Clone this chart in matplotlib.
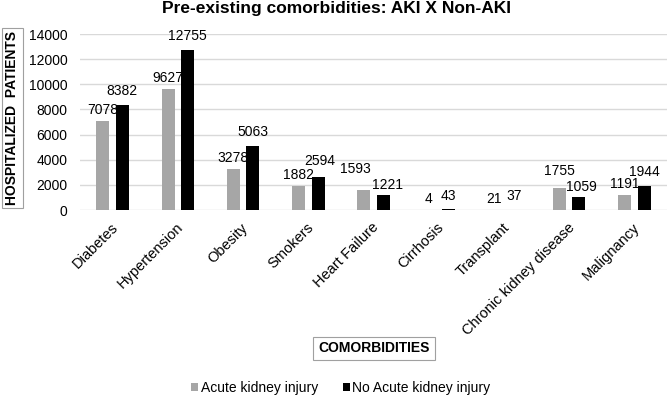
import numpy as np
import matplotlib.pyplot as plt
from matplotlib.transforms import ScaledTranslation

plt.rcParams['font.family'] = ['Liberation Sans', 'DejaVu Sans']

# dados do grafico
comorbidades = ["Diabetes", "Hypertension", "Obesity", "Smokers", "Heart Failure",
                "Cirrhosis", "Transplant", "Chronic kidney disease", "Malignancy"]
aki = [7078, 9627, 3278, 1882, 1593, 4, 21, 1755, 1191]
nao_aki = [8382, 12755, 5063, 2594, 1221, 43, 37, 1059, 1944]
yticks = [0, 2000, 4000, 6000, 8000, 10000, 12000, 14000]

# deslocamento dos rotulos (em pontos) para nao se sobreporem, como no Excel
desl_aki = {4: (-6, 15), 7: (0, 12)}
desl_nao = {3: (1, 12), 4: (3, 7), 7: (2, 7)}

fig = plt.figure(figsize=(6.69, 3.96), dpi=100)
ax = fig.add_axes([80/669, 1 - 210/396, 587/669, 176/396])

x = np.arange(len(comorbidades))
w = 0.2
b1 = ax.bar(x - 0.15, aki, w, color="#a6a6a6", label="Acute kidney injury", zorder=3)
b2 = ax.bar(x + 0.15, nao_aki, w, color="black", label="No Acute kidney injury", zorder=3)

# rotulos em cima das barras
for i, (barra, v) in enumerate(zip(b1, aki)):
    ax.annotate(str(v), (barra.get_x() + barra.get_width()/2, v), xytext=desl_aki.get(i, (0, 8)),
                textcoords="offset points", ha="center", va="center", fontsize=10)
for i, (barra, v) in enumerate(zip(b2, nao_aki)):
    ax.annotate(str(v), (barra.get_x() + barra.get_width()/2, v), xytext=desl_nao.get(i, (0, 10)),
                textcoords="offset points", ha="center", va="center", fontsize=10)

ax.set_xlim(-0.5, len(comorbidades) - 0.5)
ax.set_ylim(0, 14000)
ax.set_yticks(yticks)
ax.set_yticklabels([str(t) for t in yticks], fontsize=10)
ax.set_xticks(x)
ax.set_xticklabels(comorbidades, rotation=45, ha="right", va="center",
                   rotation_mode="anchor", fontsize=10.5)
ax.tick_params(axis="y", length=0, pad=9)
ax.tick_params(axis="x", length=0, pad=6)
for lbl in ax.get_xticklabels():
    lbl.set_transform(lbl.get_transform() + ScaledTranslation(0.03, -0.07, fig.dpi_scale_trans))
ax.grid(axis="y", color="#d9d9d9", linewidth=1, zorder=0)
for s in ax.spines.values():
    s.set_visible(False)

fig.text(336/669, 1 - 8/396, "Pre-existing comorbidities: AKI X Non-AKI",
         ha="center", va="center", fontsize=12.5, fontweight="bold")
fig.text(12.5/669, 1 - 118/396, "HOSPITALIZED  PATIENTS", rotation=90,
         ha="center", va="center", fontsize=10, fontweight="bold",
         bbox=dict(boxstyle="square,pad=0.25", fc="white", ec="#a0a0a0", lw=0.8))
fig.text(374/669, 1 - 348.5/396, "COMORBIDITIES", ha="center", va="center",
         fontsize=10, fontweight="bold",
         bbox=dict(boxstyle="square,pad=0.35", fc="white", ec="#a0a0a0", lw=0.8))

fig.legend(handles=[b1, b2], loc="center", bbox_to_anchor=(341/669, 1 - 388/396),
           ncol=2, frameon=False, fontsize=10, handlelength=0.5, handleheight=0.5,
           handletextpad=0.2, columnspacing=1.75)

fig.savefig("out.png", dpi=100)
